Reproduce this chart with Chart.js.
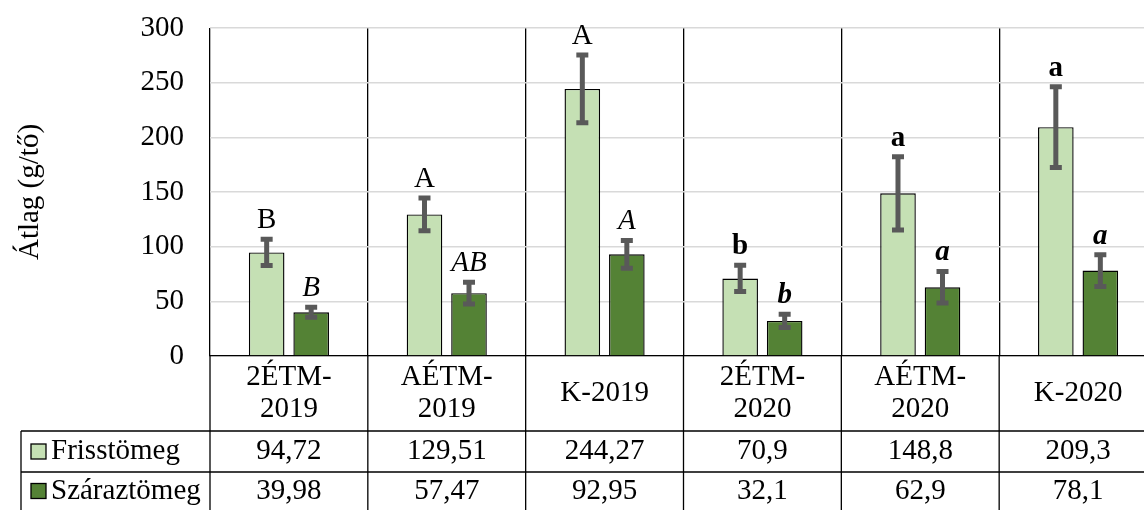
<!DOCTYPE html>
<html>
<head>
<meta charset="utf-8">
<script src="https://cdn.jsdelivr.net/npm/chart.js@4.4.1/dist/chart.umd.min.js"></script>
<style>
  html, body { margin: 0; padding: 0; background: #fff; overflow: hidden; }
  #wrap { width: 1160px; height: 510px; }
</style>
</head>
<body>
<div id="wrap"><canvas id="chart" width="1160" height="510"></canvas></div>
<script>
'use strict';
// categories (table header), two series with SD and significance letters
const categories = [['2ÉTM-', '2019'], ['AÉTM-', '2019'], 'K-2019', ['2ÉTM-', '2020'], ['AÉTM-', '2020'], 'K-2020'];
const seriesNames = ['Frisstömeg', 'Száraztömeg'];
const freshMass = [94.72, 129.51, 244.27, 70.9, 148.8, 209.3];
const dryMass = [39.98, 57.47, 92.95, 32.1, 62.9, 78.1];
const freshErr = [12, 15, 31, 12, 33.5, 37];
const dryErr = [4.5, 10, 12.7, 6, 14.5, 14.5];
const freshLetters = ['B', 'A', 'A', 'b', 'a', 'a'];
const dryLetters = ['B', 'AB', 'A', 'b', 'a', 'a'];
const yTicks = [0, 50, 100, 150, 200, 250, 300];

const FONT = '"Liberation Serif", "Times New Roman", serif';
const ERR_COLOR = '#595959';

function isSecondYear(i) {
  const lab = categories[i];
  const txt = Array.isArray(lab) ? lab.join('') : lab;
  return txt.indexOf('2020') >= 0;
}

// error bars + letters above them
const errorBars = {
  id: 'errorBars',
  afterDatasetsDraw(chart) {
    const ctx = chart.ctx;
    const y = chart.scales.y;
    chart.data.datasets.forEach((ds, di) => {
      const meta = chart.getDatasetMeta(di);
      meta.data.forEach((bar, i) => {
        const v = ds.data[i];
        const e = ds.errors[i];
        const yTop = y.getPixelForValue(v + e);
        const yBot = y.getPixelForValue(v - e);
        ctx.save();
        ctx.strokeStyle = ERR_COLOR;
        ctx.lineWidth = 5;
        ctx.beginPath();
        ctx.moveTo(bar.x, yTop);
        ctx.lineTo(bar.x, yBot);
        ctx.moveTo(bar.x - 6, yTop);
        ctx.lineTo(bar.x + 6, yTop);
        ctx.moveTo(bar.x - 6, yBot);
        ctx.lineTo(bar.x + 6, yBot);
        ctx.stroke();

        let style = '';
        if (di === 1) style += 'italic ';
        if (isSecondYear(i)) style += 'bold ';
        ctx.font = style + '29px ' + FONT;
        ctx.fillStyle = '#000';
        ctx.textAlign = 'center';
        ctx.textBaseline = 'alphabetic';
        ctx.fillText(ds.letters[i], bar.x, yTop - 11);
        ctx.restore();
      });
    });
  }
};

// data table under the plot
const dataTable = {
  id: 'dataTable',
  afterDraw(chart) {
    const ctx = chart.ctx;
    const area = chart.chartArea;
    const x = chart.scales.x;
    const n = chart.data.labels.length;
    const cw = (area.right - area.left) / n;
    const top = area.bottom;
    const row1 = 431;
    const row2 = 472;
    const bottom = 510;
    const tableLeft = 21;

    ctx.save();
    ctx.strokeStyle = '#000';
    ctx.lineWidth = 1.3;
    ctx.beginPath();
    for (let i = 0; i <= n; i++) {
      const bx = area.left + i * cw;
      ctx.moveTo(bx, top);
      ctx.lineTo(bx, bottom);
    }
    ctx.moveTo(tableLeft, row1);
    ctx.lineTo(area.right, row1);
    ctx.moveTo(tableLeft, row2);
    ctx.lineTo(area.right, row2);
    ctx.moveTo(tableLeft, row1);
    ctx.lineTo(tableLeft, bottom);
    ctx.stroke();

    ctx.fillStyle = '#000';
    ctx.textAlign = 'center';
    ctx.textBaseline = 'middle';
    ctx.font = '29px ' + FONT;
    chart.data.labels.forEach((lab, i) => {
      const cx = x.getPixelForValue(i);
      const lines = Array.isArray(lab) ? lab : [lab];
      const lh = 32;
      const y0 = (top + row1) / 2 - (lines.length - 1) * lh / 2;
      lines.forEach((t, k) => ctx.fillText(t, cx, y0 + k * lh));
    });

    const rows = [[row1, row2], [row2, bottom]];
    chart.data.datasets.forEach((ds, di) => {
      const cy = (rows[di][0] + rows[di][1]) / 2;
      ctx.font = '29px ' + FONT;
      ds.data.forEach((v, i) => {
        ctx.fillText(String(v).replace('.', ','), x.getPixelForValue(i), cy);
      });
      // legend key
      ctx.fillStyle = ds.backgroundColor;
      ctx.fillRect(31, cy - 7.5, 15, 15);
      ctx.lineWidth = 1.3;
      ctx.strokeRect(31, cy - 7.5, 15, 15);
      ctx.fillStyle = '#000';
      ctx.textAlign = 'left';
      ctx.font = '29px ' + FONT;
      ctx.fillText(ds.label, 51, cy);
      ctx.textAlign = 'center';
    });
    ctx.restore();
  }
};

new Chart(document.getElementById('chart'), {
  type: 'bar',
  data: {
    labels: categories,
    datasets: [
      {
        label: seriesNames[0],
        data: freshMass,
        errors: freshErr,
        letters: freshLetters,
        backgroundColor: '#C5E0B4',
        borderColor: '#000',
        borderWidth: 1.4
      },
      {
        label: seriesNames[1],
        data: dryMass,
        errors: dryErr,
        letters: dryLetters,
        backgroundColor: '#548235',
        borderColor: '#000',
        borderWidth: 1.4
      }
    ]
  },
  options: {
    responsive: false,
    animation: false,
    categoryPercentage: 0.564,
    barPercentage: 0.8,
    layout: { padding: { top: 28, right: 3, left: 0, bottom: 0 } },
    plugins: {
      legend: { display: false },
      tooltip: { enabled: false }
    },
    scales: {
      x: {
        grid: { offset: true, color: '#000', lineWidth: 1.3, drawTicks: false },
        border: { color: '#000', width: 1.3 },
        ticks: { display: false },
        afterFit(s) { s.height = 154; }
      },
      y: {
        min: yTicks[0],
        max: yTicks[yTicks.length - 1],
        afterBuildTicks(s) { s.ticks = yTicks.map(v => ({ value: v })); },
        grid: { color: '#D9D9D9', lineWidth: 1.5, drawTicks: true, tickLength: 26, tickColor: 'rgba(0,0,0,0)' },
        border: { display: false },
        ticks: { color: '#000', padding: 0, font: { family: FONT, size: 29 } },
        title: {
          display: true,
          text: 'Átlag (g/tő)',
          color: '#000',
          font: { family: FONT, size: 29 },
          padding: { top: 13, bottom: 0 }
        },
        afterFit(s) { s.width = 210; }
      }
    }
  },
  plugins: [errorBars, dataTable]
});
</script>
</body>
</html>
